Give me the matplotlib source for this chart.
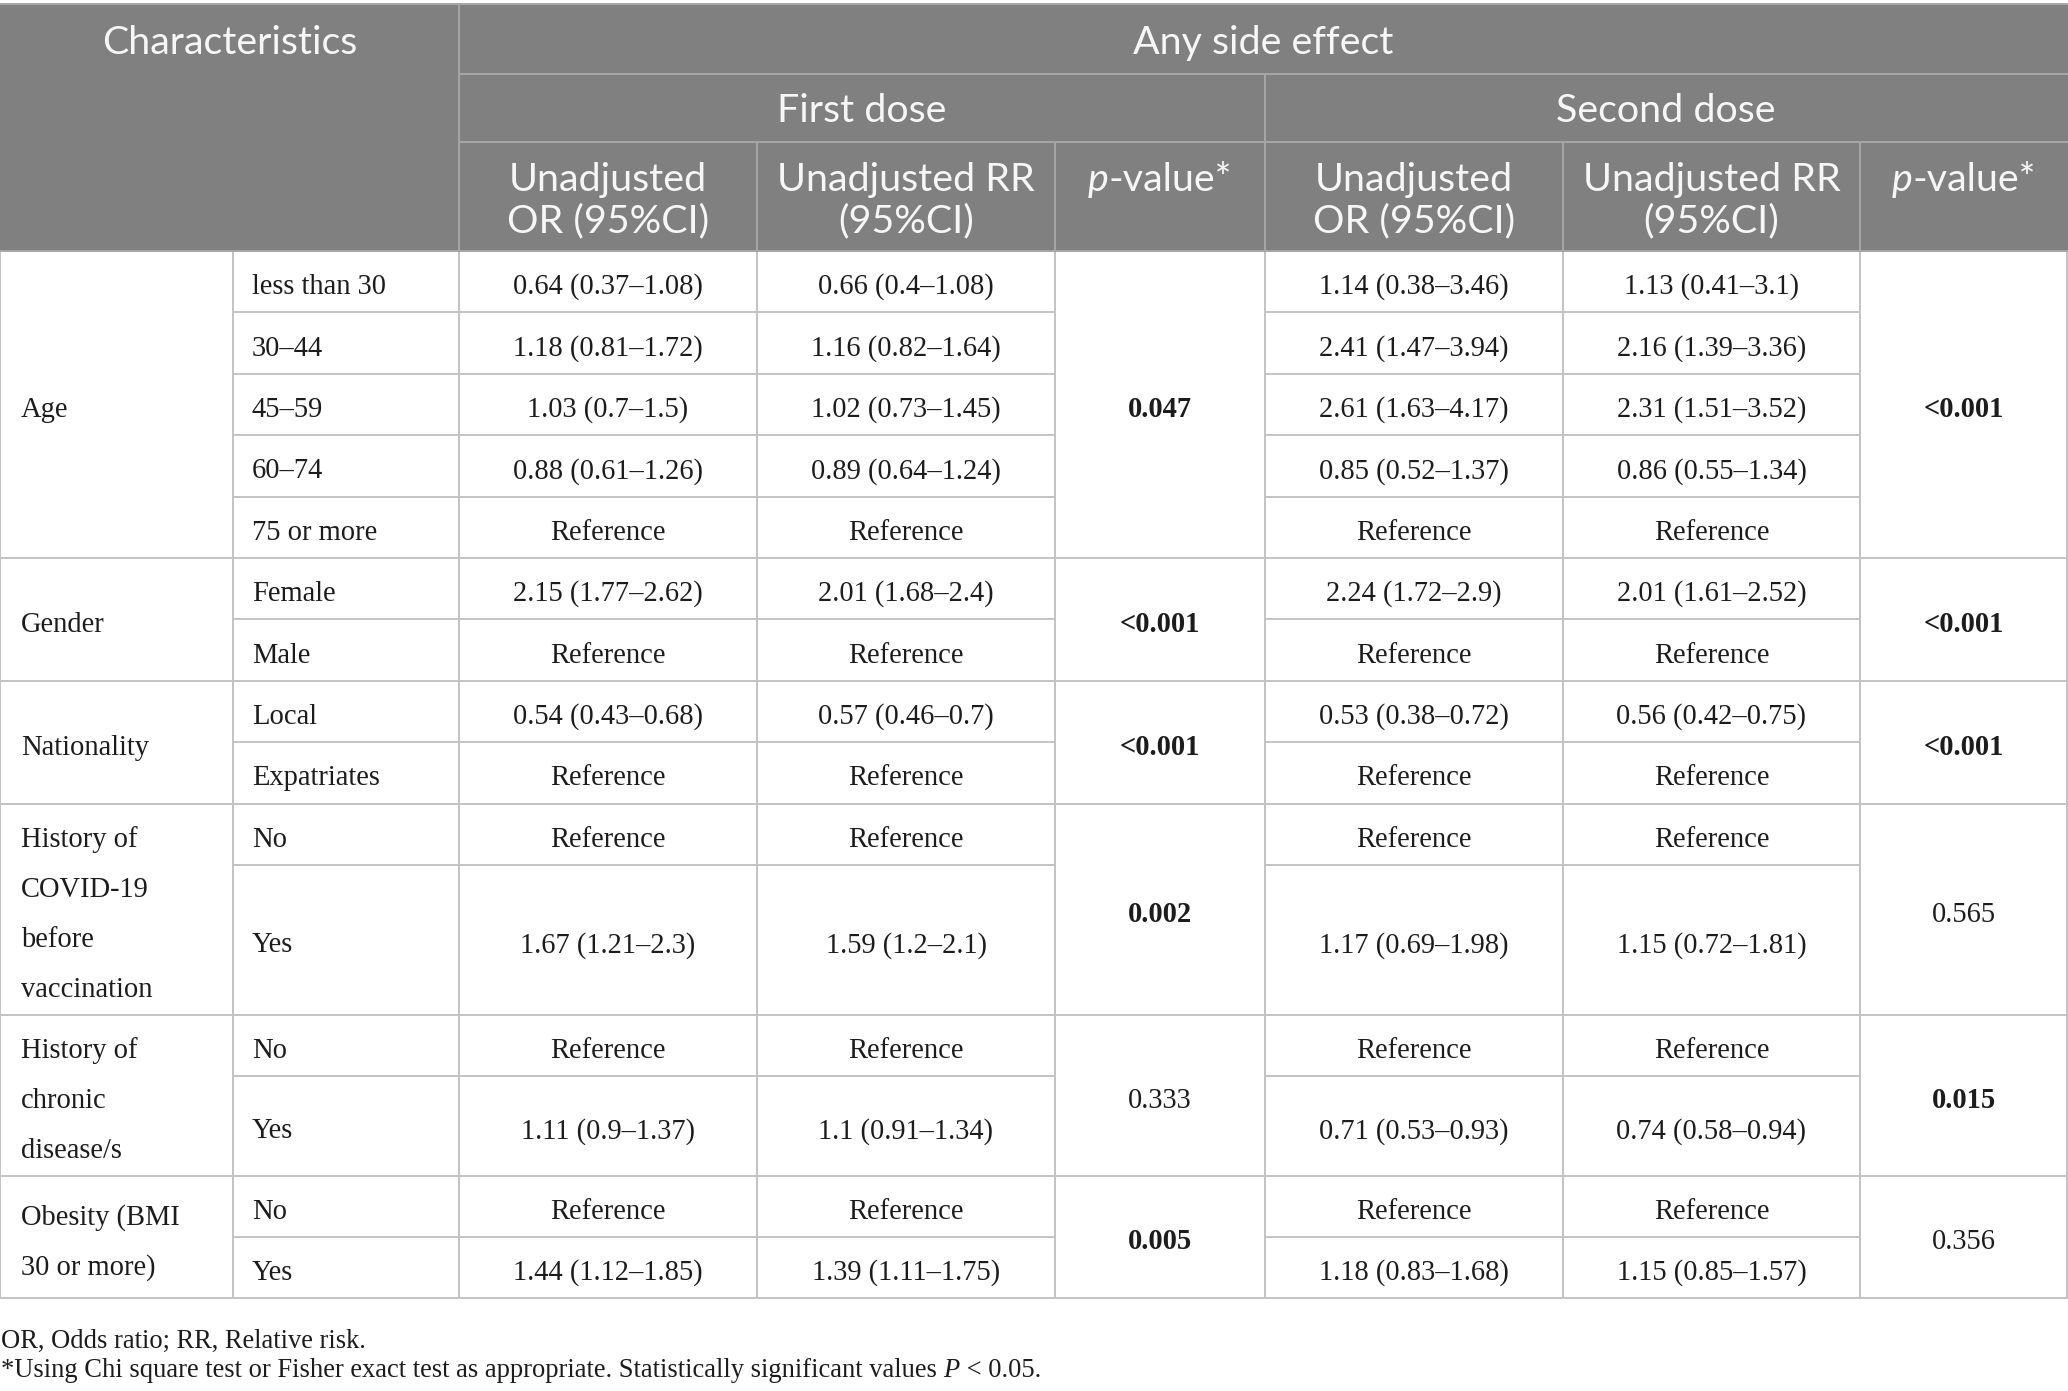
import matplotlib
matplotlib.use("Agg")
import matplotlib.pyplot as plt

# ---------------- data ----------------
groups = ["Age", "Gender", "Nationality",
          "History of\nCOVID-19\nbefore\nvaccination",
          "History of\nchronic\ndisease/s",
          "Obesity (BMI\n30 or more)"]
subgroups = [["less than 30", "30–44", "45–59", "60–74", "75 or more"],
             ["Female", "Male"],
             ["Local", "Expatriates"],
             ["No", "Yes"],
             ["No", "Yes"],
             ["No", "Yes"]]
first_or = ["0.64 (0.37–1.08)", "1.18 (0.81–1.72)", "1.03 (0.7–1.5)", "0.88 (0.61–1.26)", "Reference",
            "2.15 (1.77–2.62)", "Reference",
            "0.54 (0.43–0.68)", "Reference",
            "Reference", "1.67 (1.21–2.3)",
            "Reference", "1.11 (0.9–1.37)",
            "Reference", "1.44 (1.12–1.85)"]
first_rr = ["0.66 (0.4–1.08)", "1.16 (0.82–1.64)", "1.02 (0.73–1.45)", "0.89 (0.64–1.24)", "Reference",
            "2.01 (1.68–2.4)", "Reference",
            "0.57 (0.46–0.7)", "Reference",
            "Reference", "1.59 (1.2–2.1)",
            "Reference", "1.1 (0.91–1.34)",
            "Reference", "1.39 (1.11–1.75)"]
first_p = ["0.047", "<0.001", "<0.001", "0.002", "0.333", "0.005"]
second_or = ["1.14 (0.38–3.46)", "2.41 (1.47–3.94)", "2.61 (1.63–4.17)", "0.85 (0.52–1.37)", "Reference",
             "2.24 (1.72–2.9)", "Reference",
             "0.53 (0.38–0.72)", "Reference",
             "Reference", "1.17 (0.69–1.98)",
             "Reference", "0.71 (0.53–0.93)",
             "Reference", "1.18 (0.83–1.68)"]
second_rr = ["1.13 (0.41–3.1)", "2.16 (1.39–3.36)", "2.31 (1.51–3.52)", "0.86 (0.55–1.34)", "Reference",
             "2.01 (1.61–2.52)", "Reference",
             "0.56 (0.42–0.75)", "Reference",
             "Reference", "1.15 (0.72–1.81)",
             "Reference", "0.74 (0.58–0.94)",
             "Reference", "1.15 (0.85–1.57)"]
second_p = ["<0.001", "<0.001", "<0.001", "0.565", "0.015", "0.356"]
alpha = 0.05

header_top = "Characteristics"
header_span = "Any side effect"
dose_labels = ["First dose", "Second dose"]
col_labels = ["Unadjusted\nOR (95%CI)", "Unadjusted RR\n(95%CI)"]
footnote1 = "OR, Odds ratio; RR, Relative risk."
footnote2 = [("*Using Chi square test or Fisher exact test as appropriate. Statistically significant values ", "normal"),
             ("P", "italic"), (" < 0.05.", "normal")]

# ---------------- layout / style ----------------
W, H = 2068, 1391
fig = plt.figure(figsize=(W / 100, H / 100), dpi=100)
ax = fig.add_axes([0, 0, 1, 1])
ax.set_xlim(0, W)
ax.set_ylim(H, 0)
ax.axis("off")

SERIF = "Liberation Serif"
SANS = "Lato"
HEAD_BG = "#7f807f"
HEAD_LINE = "#a7a7a7"
HEAD_TXT = "#f6f6f6"
BODY_LINE = "#c3c3c3"
BODY_TXT = "#1c1c1c"

cols = [0, 233, 459, 757, 1055, 1265, 1563, 1860, 2067]
hy = [4, 74, 142, 251]
row_h = 61.4
line_h = 50
pad = 11
BODY_DY = 3

r = fig.canvas.get_renderer()


def text_w(s, **kw):
    t1 = ax.text(0, 0, "x" + s + "x", **kw)
    t2 = ax.text(0, 0, "xx", **kw)
    w = t1.get_window_extent(r).width - t2.get_window_extent(r).width
    t1.remove(); t2.remove()
    return w


body_fs = 20 * 190 / text_w("0.64 (0.37–1.08)", family=SERIF, fontsize=20)
head_fs = 24 * 256 / text_w("Characteristics", family=SANS, fontsize=24)
foot_fs = 20 * 1038 / text_w("".join(p for p, _ in footnote2), family=SERIF, fontsize=20)


def px(fs):
    return fs * 100 / 72


def put(x, yc, s, fs, family, color, ha="center", weight="normal", cap=0.66):
    ax.text(x, yc + cap * px(fs) / 2, s, ha=ha, va="baseline", fontsize=fs,
            family=family, color=color, fontweight=weight)


def put_runs(x, yc, parts, fs, family, color, ha="center", cap=0.66):
    ws = [text_w(s, family=family, fontsize=fs, fontstyle=st) for s, st in parts]
    total = sum(ws)
    xs = x - total / 2 if ha == "center" else x
    for (s, st), w in zip(parts, ws):
        ax.text(xs, yc + cap * px(fs) / 2, s, ha="left", va="baseline", fontsize=fs,
                family=family, color=color, fontstyle=st)
        xs += w


def hline(y, x0, x1, color, lw=1.4):
    ax.plot([x0, x1], [y, y], color=color, lw=lw, solid_capstyle="butt", zorder=3)


def vline(x, y0, y1, color, lw=1.4):
    ax.plot([x, x], [y0, y1], color=color, lw=lw, solid_capstyle="butt", zorder=3)


# ---------------- header ----------------
ax.add_patch(plt.Rectangle((0, hy[0]), W, hy[3] - hy[0], color=HEAD_BG, zorder=1, lw=0))
hline(hy[0], 0, W, HEAD_LINE)
hline(hy[1], cols[2], W, HEAD_LINE)
hline(hy[2], cols[2], W, HEAD_LINE)
vline(cols[2], hy[0], hy[3], HEAD_LINE)
vline(cols[5], hy[1], hy[3], HEAD_LINE)
for c in [cols[3], cols[4], cols[6], cols[7]]:
    vline(c, hy[2], hy[3], HEAD_LINE)

HCAP = 0.72
put((cols[0] + cols[2]) / 2, 40, header_top, head_fs, SANS, HEAD_TXT, cap=HCAP)
put((cols[2] + cols[8]) / 2, 40, header_span, head_fs, SANS, HEAD_TXT, cap=HCAP)
put((cols[2] + cols[5]) / 2, 108, dose_labels[0], head_fs, SANS, HEAD_TXT, cap=HCAP)
put((cols[5] + cols[8]) / 2, 108, dose_labels[1], head_fs, SANS, HEAD_TXT, cap=HCAP)
for base in [2, 5]:
    for k, lab in enumerate(col_labels):
        xc = (cols[base + k] + cols[base + k + 1]) / 2
        for j, ln in enumerate(lab.split("\n")):
            put(xc, 177 + j * 41, ln, head_fs, SANS, HEAD_TXT, cap=HCAP)
    xc = (cols[base + 2] + cols[base + 3]) / 2
    put_runs(xc, 177, [("p", "italic"), ("-value*", "normal")], head_fs, SANS, HEAD_TXT, cap=HCAP)


# ---------------- body ----------------
def pval(s):
    return float(s.replace("<", "")) - (1e-9 if s.startswith("<") else 0)


y = hy[3]
idx = 0
for g, (grp, subs) in enumerate(zip(groups, subgroups)):
    lines = grp.split("\n")
    heights = [row_h] * len(subs)
    need = len(lines) * line_h + pad
    if need > sum(heights):
        heights[-1] += need - sum(heights)
    g0 = y
    g1 = y + sum(heights)
    # group label
    gc = (g0 + g1) / 2 + BODY_DY
    for j, ln in enumerate(lines):
        put(21, gc + (j - (len(lines) - 1) / 2) * line_h, ln, body_fs, SERIF, BODY_TXT, ha="left")
    # sub rows
    yy = g0
    for k, (sub, h) in enumerate(zip(subs, heights)):
        rc = yy + h / 2 + BODY_DY
        put(252, rc, sub, body_fs, SERIF, BODY_TXT, ha="left")
        for ci, vals in [(2, first_or), (3, first_rr), (5, second_or), (6, second_rr)]:
            put((cols[ci] + cols[ci + 1]) / 2, rc, vals[idx], body_fs, SERIF, BODY_TXT)
        idx += 1
        yy += h
        if k < len(subs) - 1:
            hline(yy, cols[1], cols[4], BODY_LINE)
            hline(yy, cols[5], cols[7], BODY_LINE)
    # p-values (merged cells)
    for ci, pv in [(4, first_p[g]), (7, second_p[g])]:
        wt = "bold" if pval(pv) < alpha else "normal"
        put((cols[ci] + cols[ci + 1]) / 2, gc, pv, body_fs, SERIF, BODY_TXT, weight=wt)
    hline(g1, 0, W, BODY_LINE)
    y = g1

body_bottom = y
for c in cols:
    vline(c, hy[3], body_bottom, BODY_LINE)
hline(hy[3], 0, W, HEAD_LINE)

# ---------------- footnotes ----------------
put(1, 1339, footnote1, foot_fs, SERIF, BODY_TXT, ha="left")
put_runs(1, 1368, footnote2, foot_fs, SERIF, BODY_TXT, ha="left")

fig.savefig("out.png", dpi=100)
